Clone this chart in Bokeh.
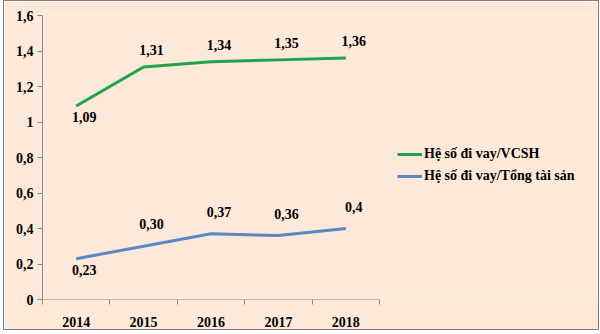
from bokeh.plotting import figure
from bokeh.models import (Range1d, FixedTicker, CustomJSTickFormatter, ColumnDataSource,
                          LabelSet, Legend, LegendItem)
from bokeh.embed import file_html
from bokeh.resources import INLINE

years = [2014, 2015, 2016, 2017, 2018]
vcsh = [1.09, 1.31, 1.34, 1.35, 1.36]
vcsh_labels = ["1,09", "1,31", "1,34", "1,35", "1,36"]
vcsh_pos = ["below", "above", "above", "above", "above"]
tts = [0.23, 0.30, 0.37, 0.36, 0.40]
tts_labels = ["0,23", "0,30", "0,37", "0,36", "0,4"]
tts_pos = ["below", "above", "above", "above", "above"]
series_names = ["Hệ số đi vay/VCSH", "Hệ số đi vay/Tổng tài sản"]
y_ticks = [0, 0.2, 0.4, 0.6, 0.8, 1.0, 1.2, 1.4, 1.6]

BG = "#fde9d9"
GREEN = "#1fa24a"
BLUE = "#5b87c6"
AXIS = "#8a8a8a"
FONT = "Times New Roman, Liberation Serif, serif"

W, LEFT, RIGHT = 596, 38, 6
frame_w = W - LEFT - RIGHT
px_per_year = 67.4
x0 = years[0] - 0.5
x1 = x0 + frame_w / px_per_year

p = figure(width=W, height=330, output_backend="svg", toolbar_location=None,
           x_range=Range1d(x0, x1), y_range=Range1d(0, 1.6),
           min_border_left=LEFT, min_border_right=RIGHT, min_border_top=14, min_border_bottom=32,
           background_fill_color=BG, border_fill_color=BG)
p.outline_line_color = None
p.grid.visible = False

p.xaxis.ticker = FixedTicker(ticks=years, minor_ticks=[y - 0.5 for y in years] + [years[-1] + 0.5])
p.xaxis.axis_line_color = None
p.xaxis.major_tick_out = 0
p.xaxis.major_tick_in = 0
p.xaxis.minor_tick_out = 5
p.xaxis.minor_tick_in = 0
p.xaxis.minor_tick_line_color = AXIS
p.xaxis.major_label_standoff = 12

p.yaxis.ticker = FixedTicker(ticks=y_ticks)
p.yaxis.formatter = CustomJSTickFormatter(code="var s=(Math.round(tick*10)/10).toString(); return s.replace('.', ',');")
p.yaxis.minor_tick_line_color = None
p.yaxis.axis_line_color = AXIS
p.yaxis.major_tick_out = 5
p.yaxis.major_tick_in = 0
p.yaxis.major_label_standoff = 4

for ax in (p.xaxis, p.yaxis):
    ax.major_tick_line_color = AXIS
    ax.major_label_text_font = FONT
    ax.major_label_text_font_style = "bold"
    ax.major_label_text_font_size = "14px"
    ax.major_label_text_color = "black"

# category-axis baseline, ending after the last category
p.segment(x0=[x0], y0=[0], x1=[years[-1] + 0.5], y1=[0], line_color=AXIS, line_width=1)

r1 = p.line(years, vcsh, line_color=GREEN, line_width=3)
r2 = p.line(years, tts, line_color=BLUE, line_width=3)

for vals, labs, pos, up in ((vcsh, vcsh_labels, vcsh_pos, 17), (tts, tts_labels, tts_pos, 22)):
    for where in ("above", "below"):
        idx = [i for i, s in enumerate(pos) if s == where]
        src = ColumnDataSource(dict(x=[years[i] for i in idx], y=[vals[i] for i in idx],
                                    t=[labs[i] for i in idx]))
        ls = LabelSet(x="x", y="y", text="t", source=src, text_align="center",
                      text_baseline="middle", x_offset=8,
                      y_offset=(up if where == "above" else -11),
                      text_font=FONT, text_font_style="bold", text_font_size="14px",
                      text_color="black")
        p.add_layout(ls)

legend = Legend(items=[LegendItem(label=series_names[0], renderers=[r1]),
                       LegendItem(label=series_names[1], renderers=[r2])],
                location=(355, 115), orientation="vertical",
                background_fill_alpha=0, border_line_color=None,
                padding=0, margin=0, spacing=6, glyph_width=25, glyph_height=16,
                label_height=16, label_standoff=2,
                label_text_font=FONT, label_text_font_style="bold",
                label_text_font_size="14px", label_text_color="black")
p.add_layout(legend)

p.styles = {"border": "1px solid #7f7f7f", "margin-left": "3px"}

open("out.html", "w").write(file_html(p, INLINE))
